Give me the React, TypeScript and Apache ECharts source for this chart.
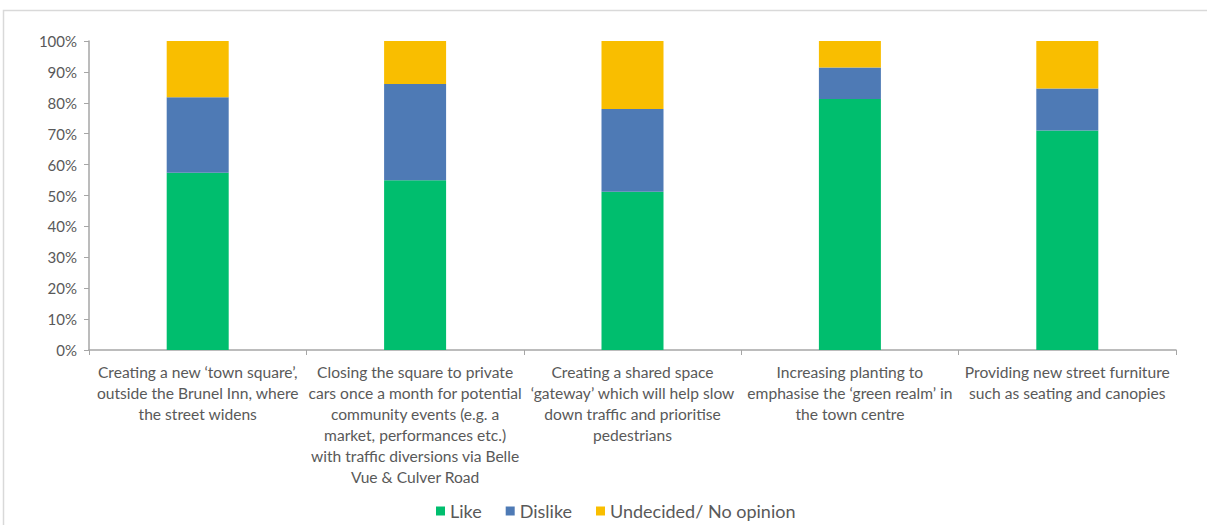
import React, { useEffect, useRef } from "react";
import * as echarts from "echarts";

const categories = [
  "Creating a new ‘town square’,\noutside the Brunel Inn, where\nthe street widens",
  "Closing the square to private\ncars once a month for potential\ncommunity events (e.g. a\nmarket, performances etc.)\nwith traffic diversions via Belle\nVue & Culver Road",
  "Creating a shared space\n‘gateway’ which will help slow\ndown traffic and prioritise\npedestrians",
  "Increasing planting to\nemphasise the ‘green realm’ in\nthe town centre",
  "Providing new street furniture\nsuch as seating and canopies",
];

const likeValues = [57.4, 54.9, 51.2, 81.2, 71.0];
const dislikeValues = [24.4, 31.2, 26.8, 10.2, 13.6];
const undecidedValues = [18.2, 13.9, 22.0, 8.6, 15.4];

const seriesNames = ["Like", "Dislike", "Undecided/ No opinion"];
const seriesColors = ["#00BE6E", "#4E7AB5", "#F9BE00"];

export default function App() {
  const ref = useRef<HTMLDivElement>(null);

  useEffect(() => {
    document.body.style.margin = "0";
    if (!ref.current) return;
    const chart = echarts.init(ref.current, null, { renderer: "svg" });
    const font = "Lato, 'Open Sans', sans-serif";
    const seriesData = [likeValues, dislikeValues, undecidedValues];
    chart.setOption({
      animation: false,
      backgroundColor: "#ffffff",
      textStyle: { fontFamily: font },
      graphic: [
        {
          type: "rect",
          shape: { x: 3.5, y: 10.5, width: 1300, height: 600 },
          style: { fill: "none", stroke: "#d9d9d9", lineWidth: 1.5 },
          silent: true,
        },
      ],
      grid: { left: 89, right: 31, top: 41, bottom: 175, containLabel: false },
      legend: {
        bottom: 0,
        left: 431,
        itemWidth: 9,
        itemHeight: 9,
        itemGap: 24,
        icon: "rect",
        textStyle: { fontSize: 18, color: "#595959", fontFamily: font },
        data: seriesNames,
      },
      xAxis: {
        type: "category",
        data: categories,
        axisLine: { lineStyle: { color: "#a6a6a6", width: 1.5 } },
        axisTick: { show: true, length: 5, lineStyle: { color: "#a6a6a6" } },
        axisLabel: {
          interval: 0,
          color: "#595959",
          fontSize: 15.6,
          lineHeight: 21,
          margin: 11,
          fontFamily: font,
          align: "center",
        },
      },
      yAxis: {
        type: "value",
        min: 0,
        max: 100,
        interval: 10,
        splitLine: { show: false },
        axisLine: { show: true, lineStyle: { color: "#a6a6a6", width: 1.5 } },
        axisTick: { show: true, length: 5, lineStyle: { color: "#a6a6a6" } },
        axisLabel: {
          formatter: "{value}%",
          color: "#595959",
          fontSize: 15,
          margin: 12,
          fontFamily: font,
        },
      },
      series: seriesNames.map((name, i) => ({
        name,
        type: "bar",
        stack: "total",
        barWidth: 62,
        data: seriesData[i],
        itemStyle: { color: seriesColors[i] },
      })),
    });
    return () => chart.dispose();
  }, []);

  return <div ref={ref} style={{ width: 1207, height: 525 }} />;
}
